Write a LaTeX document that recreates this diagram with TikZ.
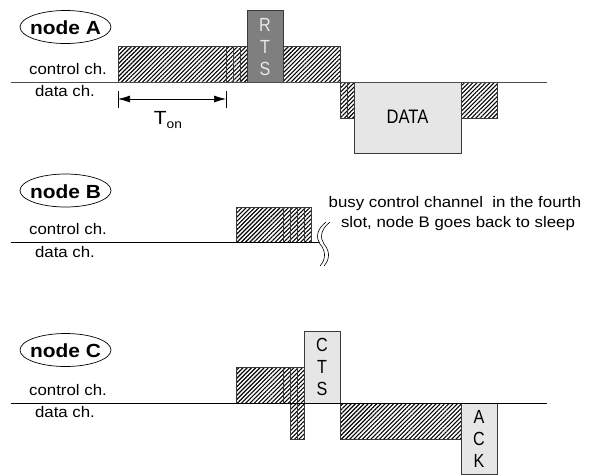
\documentclass[tikz,border=0pt]{standalone}
\usepackage{fontspec}
\setmainfont{Liberation Sans}[FakeStretch=1.1]
\newfontfamily\narrowfont{Liberation Sans}[FakeStretch=0.85]
\usetikzlibrary{patterns.meta,arrows.meta}
\definecolor{lightbox}{HTML}{E6E6E6}
\definecolor{darkbox}{HTML}{7F7F7F}
\definecolor{edgec}{HTML}{3A3A3A}
\definecolor{rtstext}{HTML}{E8E8E8}
\tikzset{
  hatch/.style={draw=edgec, line width=0.7pt, pattern={Lines[angle=45,distance=3pt,line width=1.1pt]}},
  lightpkt/.style={draw=edgec, line width=0.8pt, fill=lightbox},
  darkpkt/.style={draw=edgec, line width=0.8pt, fill=darkbox},
  chline/.style={line width=0.8pt},
  slotline/.style={draw=edgec, line width=0.7pt},
  ellipseline/.style={line width=0.7pt},
  nodelbl/.style={inner sep=0pt, font=\fontsize{19}{22}\selectfont\bfseries},
  chlbl/.style={font=\fontsize{15.3}{18}\selectfont, inner sep=0pt, anchor=base},
  pktlbl/.style={font=\narrowfont\fontsize{19}{22}\selectfont, align=center, inner sep=0pt},
  notelbl/.style={font=\fontsize{15.3}{18}\selectfont, inner sep=0pt, anchor=base},
}
\begin{document}
\begin{tikzpicture}[x=1pt,y=-1pt]
\useasboundingbox (0,0) rectangle (593,475);

% ---------------- node A ----------------
\draw[ellipseline] (65.5,27) ellipse [x radius=45.5, y radius=16.5];
\node[nodelbl] (nA) at (65.5,28) {node A};
\node[chlbl] (ctrlA) at (68,74) {control ch.};
\node[chlbl] (dataA) at (65,96) {data ch.};
% control channel
\draw[hatch] (118,46) rectangle (247,82);
\draw[slotline] (226,46) -- (226,82) (233,46) -- (233,82) (240,46) -- (240,82);
\draw[darkpkt] (247,10) rectangle (283,82);
\node[pktlbl, text=rtstext] (rts) at (265,47) {R\\T\\S};
\draw[hatch] (283,46) rectangle (340,82);
% data channel
\draw[hatch] (340,82) rectangle (354,118);
\draw[slotline] (347,82) -- (347,118);
\draw[lightpkt] (354,82) rectangle (461,153);
\node[pktlbl, font=\narrowfont\fontsize{19.5}{22}\selectfont] (data) at (407.5,117) {DATA};
\draw[hatch] (461,82) rectangle (497,118);
\draw[chline, draw=black!70] (11,82) -- (547,82);
% T_on
\coordinate (ton1) at (118,99);
\coordinate (ton2) at (226,99);
\draw[line width=0.7pt] (118,91) -- (118,108) (226,91) -- (226,108);
\draw[line width=0.7pt, {Latex[length=12pt,width=7pt]}-{Latex[length=12pt,width=7pt]}] (ton1) -- (ton2);
\node[anchor=base, inner sep=0pt, font=\fontsize{19}{22}\selectfont] (ton) at (168,124) {T\raisebox{-4pt}{\fontsize{12.5}{14}\selectfont on}};

% ---------------- node B ----------------
\draw[ellipseline] (65.5,190.5) ellipse [x radius=45.5, y radius=16.5];
\node[nodelbl] (nB) at (65.5,191.5) {node B};
\node[chlbl] (ctrlB) at (68,234) {control ch.};
\node[chlbl] (dataB) at (65,257) {data ch.};
\draw[hatch] (236,207) rectangle (311,242);
\draw[slotline] (283,207) -- (283,242) (290,207) -- (290,242) (297,207) -- (297,242) (304,207) -- (304,242);
\draw[chline] (11,242) -- (319,242);
\draw[line width=0.6pt] (326,222) .. controls (316,230) and (316,238) .. (320,244) .. controls (325,250) and (327,258) .. (320,266);
\draw[line width=0.6pt] (330,222) .. controls (320,230) and (320,238) .. (324,244) .. controls (329,250) and (331,258) .. (324,266);
\node[notelbl] (note1) at (455,207) {busy control channel~ in the fourth};
\node[notelbl] (note2) at (458,227) {slot, node B goes back to sleep};

% ---------------- node C ----------------
\draw[ellipseline] (65.5,350) ellipse [x radius=45.5, y radius=16.5];
\node[nodelbl] (nC) at (65.5,351) {node C};
\node[chlbl] (ctrlC) at (68,395) {control ch.};
\node[chlbl] (dataC) at (65,417) {data ch.};
\draw[hatch] (236,367) rectangle (304,403);
\draw[slotline] (283,367) -- (283,403) (290,367) -- (290,403) (297,367) -- (297,403);
\draw[lightpkt] (304,331) rectangle (340,403);
\node[pktlbl] (cts) at (322,367) {C\\T\\S};
\draw[hatch] (290,403) rectangle (304,439);
\draw[slotline] (297,403) -- (297,439);
\draw[hatch] (340,403) rectangle (461,439);
\draw[lightpkt] (461,403) rectangle (497,474);
\node[pktlbl] (ack) at (479,439) {A\\C\\K};
\draw[chline] (11,403) -- (547,403);
\end{tikzpicture}
\end{document}
